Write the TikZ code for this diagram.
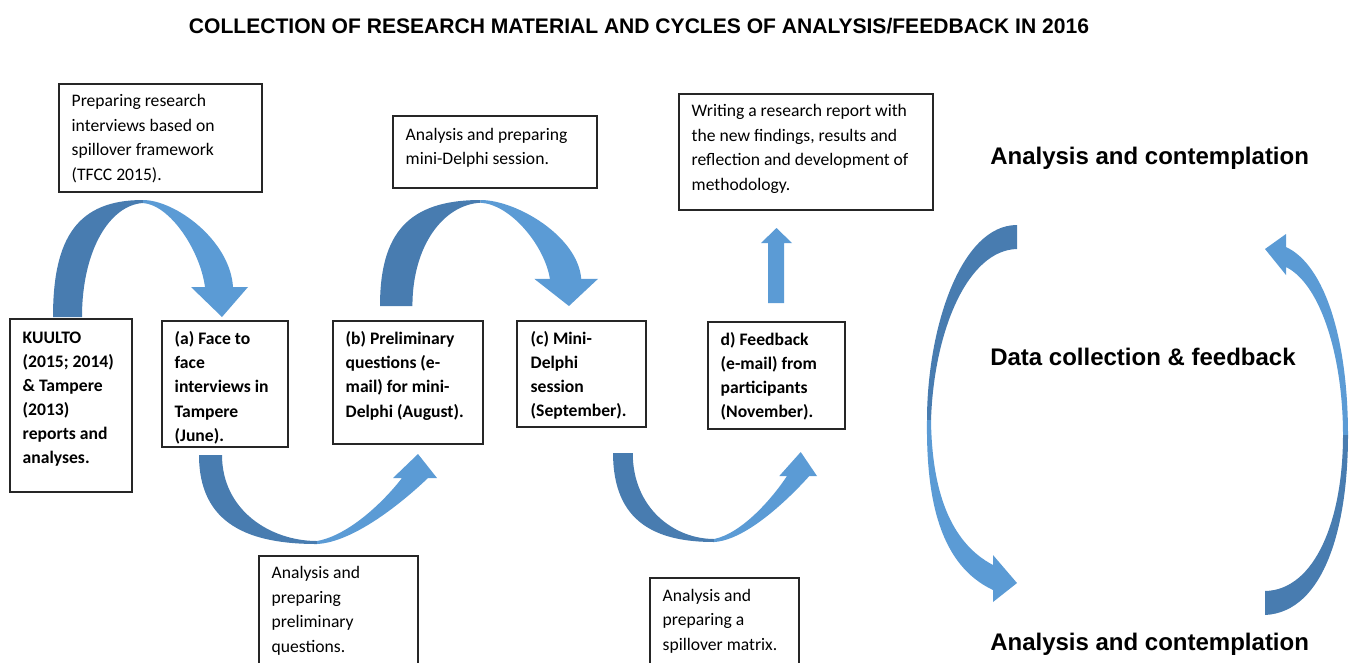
\documentclass[tikz,border=0pt]{standalone}
\usepackage{fontspec}
\setmainfont{Carlito}
\newfontfamily\arialfont{Liberation Sans}
\usetikzlibrary{calc,fit}
\definecolor{dk}{RGB}{72,124,176}
\definecolor{lt}{RGB}{91,155,213}
\newcommand{\myArcDown}{%
  \fill[dk] (53,317) .. controls (53,237) and (78,200) .. (143,200) -- (143,203)
     .. controls (110,205) and (82,250) .. (82,317) -- cycle;
  \fill[lt] (143,200) .. controls (175,200) and (230,240) .. (233,287) -- (248,287)
     -- (222,317) -- (191,287) -- (205,287) .. controls (200,250) and (170,205) .. (143,203) -- cycle;
}
\newcommand{\myArcUp}{%
  \fill[dk] (199,455) .. controls (199,525) and (250,544) .. (317,544) -- (317,541)
     .. controls (270,541) and (222,510) .. (222,455) -- cycle;
  \fill[lt] (317,544) .. controls (355,542) and (405,500) .. (428,478) -- (437,478)
     -- (418,454) -- (393,478) -- (402,478) .. controls (385,500) and (350,535) .. (317,541) -- cycle;
}
\begin{document}
\begin{tikzpicture}[x=0.75pt,y=-0.75pt,
  box/.style={draw=black!85, line width=0.85pt, inner sep=0pt},
  txt/.style={anchor=north west, inner sep=0pt, align=left, font=\fontsize{13.2}{18.4}\selectfont},
  btxt/.style={anchor=north west, inner sep=0pt, align=left, font=\fontsize{13.2}{18.1}\selectfont\bfseries},
  lbl/.style={anchor=base west, inner sep=0pt, font=\arialfont\bfseries\fontsize{18}{22}\selectfont}]
\useasboundingbox (0,0) rectangle (1357,662);
\clip (0,0) rectangle (1357,662);

% title
\node[anchor=base, inner sep=0pt, font=\arialfont\bfseries\fontsize{15.8}{19}\selectfont] (title) at (639,33)
  {COLLECTION OF RESEARCH MATERIAL AND CYCLES OF ANALYSIS/FEEDBACK IN 2016};

% curved arrows
\myArcDown
\begin{scope}[shift={(320.75,18.8)}, xscale=1.118, yscale=0.906]
  \myArcDown
\end{scope}
\myArcUp
\begin{scope}[shift={(442.5,-2)}, xscale=0.857]
  \myArcUp
\end{scope}
% straight up arrow
\fill[lt] (768,303) -- (768,243) -- (761,243) -- (776.5,228) -- (792,243) -- (784,243) -- (784,303) -- cycle;

% big left arc
\fill[dk] (1017,225) .. controls (960,225) and (927,330) .. (927,420) -- (931,420)
   .. controls (934,330) and (968,250) .. (1017,249) -- cycle;
\fill[lt] (927,420) .. controls (926,500) and (940,565) .. (993,590) -- (993,602) -- (1017,583)
   -- (993,555) -- (993,565) .. controls (955,545) and (932,500) .. (931,420) -- cycle;
% big right arc
\fill[lt] (1348,435) .. controls (1348,340) and (1325,265) .. (1286,247) -- (1286,234) -- (1265,249)
   -- (1286,275) -- (1286,267) .. controls (1322,285) and (1343,360) .. (1343,435) -- cycle;
\fill[dk] (1265,615) .. controls (1325,612) and (1348,525) .. (1348,435) -- (1343,435)
   .. controls (1343,520) and (1315,590) .. (1265,591) -- cycle;

% boxes
\node[box, fit={(59,84) (262,192)}] (p1) {};
\node[box, fit={(10,319) (132,492)}] (k) {};
\node[box, fit={(162,321) (288,447)}] (a) {};
\node[box, fit={(333,321) (483,444)}] (b) {};
\node[box, fit={(393,116) (597,188)}] (p2) {};
\node[box, fit={(517,321) (646,427)}] (c) {};
\node[box, fit={(708,322) (845,429)}] (d) {};
\node[box, fit={(679,94) (933,210)}] (w) {};
\node[box, fit={(259,556) (418,690)}] (q) {};
\node[box, fit={(650,578) (799,690)}] (s) {};

% texts
\node[txt] (p1t) at ($(p1.north west)+(13,6)$) {\strut Preparing research\\interviews based on\\spillover framework\\(TFCC 2015).};
\node[btxt] (kt) at ($(k.north west)+(13,7.4)$) {\strut KUULTO\\(2015; 2014)\\\& Tampere\\(2013)\\reports and\\analyses.};
\node[btxt] (at) at ($(a.north west)+(13,7)$) {\strut (a) Face to\\face\\interviews in\\Tampere\\(June).};
\node[btxt] (bt) at ($(b.north west)+(13,7)$) {\strut (b) Preliminary\\questions (e-\\mail) for mini-\\Delphi (August).};
\node[txt] (p2t) at ($(p2.north west)+(13,7.5)$) {\strut Analysis and preparing\\mini-Delphi session.};
\node[btxt] (ct) at ($(c.north west)+(14,6.5)$) {\strut (c) Mini-\\Delphi\\session\\(September).};
\node[btxt] (dt) at ($(d.north west)+(13,6.5)$) {\strut d) Feedback\\(e-mail) from\\participants\\(November).};
\node[txt] (wt) at ($(w.north west)+(13,6)$) {\strut Writing a research report with\\the new findings, results and\\reflection and development of\\methodology.};
\node[txt] (qt) at ($(q.north west)+(13,6)$) {\strut Analysis and\\preparing\\preliminary\\questions.};
\node[txt] (st) at ($(s.north west)+(13,6.5)$) {\strut Analysis and\\preparing a\\spillover matrix.};

% right labels
\node[lbl] (ac1) at (990,164) {Analysis and contemplation};
\node[lbl] (dc) at (990,365) {Data collection \& feedback};
\node[lbl] (ac2) at (990,650) {Analysis and contemplation};
\end{tikzpicture}
\end{document}
